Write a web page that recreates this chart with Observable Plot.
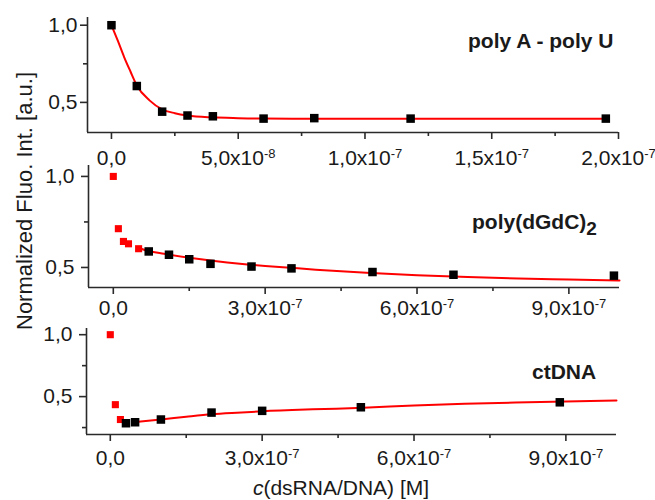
<!DOCTYPE html>
<html><head><meta charset="utf-8">
<script src="https://cdn.jsdelivr.net/npm/d3@7"></script>
<script src="https://cdn.jsdelivr.net/npm/@observablehq/plot@0.6"></script>
<style>
body{margin:0;background:#fff;}
#wrap{position:relative;width:655px;height:500px;overflow:hidden;font-family:"Liberation Sans",Arial,sans-serif;color:#1a1a1a;}
#wrap svg{position:absolute;left:0;top:0;}
.lbl{position:absolute;font-weight:bold;font-size:21px;white-space:nowrap;line-height:1;}
.ytitle{position:absolute;left:25px;top:201px;transform:translate(-50%,-50%) rotate(-90deg);font-size:22px;white-space:nowrap;line-height:1;}
.xtitle{position:absolute;left:341px;top:477px;transform:translateX(-50%);font-size:21px;white-space:nowrap;line-height:1;}
</style></head><body><div id="wrap"></div>
<script>
// ---- Panel 1: poly A - poly U ----
const p1BlackX = [0, 1e-8, 2e-8, 3e-8, 4e-8, 6e-8, 8e-8, 1.18e-7, 1.95e-7];
const p1BlackY = [1.0, 0.606, 0.44, 0.415, 0.41, 0.395, 0.398, 0.395, 0.395];
const p1FitX = [0, 0.25e-8, 0.5e-8, 0.75e-8, 1e-8, 1.5e-8, 2e-8, 2.5e-8, 3e-8, 4e-8, 5e-8, 6e-8, 8e-8, 1.2e-7, 1.6e-7, 1.96e-7];
const p1FitY = [1.0, 0.90, 0.794, 0.70, 0.61, 0.513, 0.455, 0.43, 0.415, 0.403, 0.398, 0.395, 0.394, 0.394, 0.394, 0.394];
const p1Ticks = [0, 5e-8, 1e-7, 1.5e-7, 2e-7];
const p1TickLabels = [["0,0", ""], ["5,0", "-8"], ["1,0", "-7"], ["1,5", "-7"], ["2,0", "-7"]];
const p1Minor = [2.5e-8, 7.5e-8, 1.25e-7, 1.75e-7];

// ---- Panel 2: poly(dGdC)2 ----
const p2RedX = [0, 1e-8, 2e-8, 3e-8, 5e-8];
const p2RedY = [1.0, 0.713, 0.643, 0.63, 0.603];
const p2BlackX = [7e-8, 1.1e-7, 1.5e-7, 1.92e-7, 2.73e-7, 3.52e-7, 5.12e-7, 6.72e-7, 9.89e-7];
const p2BlackY = [0.588, 0.57, 0.545, 0.52, 0.505, 0.495, 0.475, 0.46, 0.455];
const p2FitX = [5e-8, 7e-8, 1e-7, 1.5e-7, 2e-7, 2.5e-7, 3e-7, 3.5e-7, 4e-7, 5e-7, 6e-7, 7e-7, 8e-7, 9e-7, 1e-6];
const p2FitY = [0.607, 0.59, 0.575, 0.553, 0.535, 0.52, 0.508, 0.498, 0.488, 0.471, 0.457, 0.447, 0.44, 0.434, 0.428];

// ---- Panel 3: ctDNA ----
const p3RedX = [0, 1e-8, 2e-8];
const p3RedY = [1.0, 0.435, 0.315];
const p3BlackX = [3.1e-8, 4.9e-8, 1e-7, 2e-7, 3e-7, 4.95e-7, 8.88e-7];
const p3BlackY = [0.285, 0.293, 0.315, 0.371, 0.385, 0.414, 0.454];
const p3FitX = [5e-8, 1e-7, 1.5e-7, 2e-7, 2.5e-7, 3e-7, 4e-7, 5e-7, 6e-7, 7e-7, 8e-7, 9e-7, 1e-6];
const p3FitY = [0.295, 0.315, 0.337, 0.357, 0.37, 0.381, 0.397, 0.41, 0.428, 0.442, 0.452, 0.46, 0.468];

const p23Ticks = [0, 3e-7, 6e-7, 9e-7];
const p23TickLabels = [["0,0", ""], ["3,0", "-7"], ["6,0", "-7"], ["9,0", "-7"]];
const p23Minor = [1.5e-7, 4.5e-7, 7.5e-7];

const yTicks = [0.5, 1.0];
const yTickLabels = ["0,5", "1,0"];

const zip = (xs, ys) => xs.map((x, i) => ({x, y: ys[i]}));
const wrap = document.getElementById("wrap");
const AX = "#2a2a2a";

function panel(cfg) {
  const xfmt = new Map(cfg.ticks.map((t, i) => [t, cfg.labels[i].join("|")]));
  const yfmt = new Map(yTicks.map((t, i) => [t, yTickLabels[i]]));
  const marks = [
    Plot.ruleY([cfg.yDomain[0]], {stroke: AX, strokeWidth: 1.6}),
    Plot.ruleX([cfg.xDomain[0]], {stroke: AX, strokeWidth: 1.6}),
    Plot.axisX(cfg.ticks, {tickSize: 7, tickPadding: cfg.xPad, tickFormat: d => xfmt.get(d), label: null, color: AX, strokeWidth: 1.6, fontSize: 21}),
    Plot.axisX(cfg.minor, {tickSize: 4, tickFormat: () => "", label: null, color: AX, strokeWidth: 1.6}),
    Plot.axisY(yTicks, {tickSize: 7, tickPadding: cfg.yPad, tickFormat: d => yfmt.get(d), label: null, color: AX, strokeWidth: 1.6, fontSize: 21}),
    Plot.axisY(cfg.yMinor, {tickSize: 4, tickFormat: () => "", label: null, color: AX, strokeWidth: 1.6}),
    Plot.line(cfg.fit, {x: "x", y: "y", stroke: "#ff0000", strokeWidth: 2, curve: "monotone-x"})
  ];
  if (cfg.red) marks.push(Plot.dot(cfg.red, {x: "x", y: "y", symbol: "square", r: 4, fill: "#ff0000", stroke: "none"}));
  marks.push(Plot.dot(cfg.black, {x: "x", y: "y", symbol: "square", r: 4.8, fill: "#000", stroke: "none"}));
  const svg = Plot.plot({
    width: 655, height: 500,
    marginLeft: cfg.left, marginRight: 655 - cfg.right, marginTop: cfg.top, marginBottom: 500 - cfg.bottom,
    style: {fontSize: "21px", fontFamily: '"Liberation Sans", Arial, sans-serif', background: "transparent", overflow: "visible", color: "#1a1a1a"},
    x: {domain: cfg.xDomain, axis: null},
    y: {domain: cfg.yDomain, axis: null},
    marks
  });
  d3.select(svg).selectAll("text").each(function() {
    const s = this.textContent;
    if (s.includes("|")) {
      const [m, e] = s.split("|");
      this.textContent = e ? m + "x10" : m;
      if (e) d3.select(this).append("tspan").attr("dy", "-0.6em").attr("font-size", "13px").text(e);
    }
  });
  d3.select(svg).selectAll("text").attr("fill", "#1a1a1a");
  wrap.appendChild(svg);
}

panel({xDomain: [-0.945e-8, 2e-7], yDomain: [0.305, 1.05], left: 87, right: 618, top: 17, bottom: 132,
  ticks: p1Ticks, labels: p1TickLabels, minor: p1Minor, yMinor: [0.75], xPad: 11, yPad: 3,
  fit: zip(p1FitX, p1FitY), black: zip(p1BlackX, p1BlackY)});
panel({xDomain: [-0.49e-7, 1.0e-6], yDomain: [0.39, 1.06], left: 88, right: 619, top: 165, bottom: 287,
  ticks: p23Ticks, labels: p23TickLabels, minor: p23Minor, yMinor: [0.75], xPad: 6, yPad: 7,
  fit: zip(p2FitX, p2FitY), red: zip(p2RedX, p2RedY), black: zip(p2BlackX, p2BlackY)});
panel({xDomain: [-0.47e-7, 1.0e-6], yDomain: [0.194, 1.05], left: 86, right: 616, top: 328, bottom: 434,
  ticks: p23Ticks, labels: p23TickLabels, minor: p23Minor, yMinor: [0.25, 0.75], xPad: 9, yPad: 7,
  fit: zip(p3FitX, p3FitY), red: zip(p3RedX, p3RedY), black: zip(p3BlackX, p3BlackY)});

function addDiv(cls, html, left, top) {
  const d = document.createElement("div");
  d.className = cls; d.innerHTML = html;
  if (left != null) { d.style.left = left + "px"; d.style.top = top + "px"; }
  wrap.appendChild(d);
}
addDiv("lbl", "poly A - poly U", 468, 30);
addDiv("lbl", 'poly(dGdC)<span style="font-size:19px;position:relative;top:6px">2</span>', 472, 211);
addDiv("lbl", "ctDNA", 532, 361);
addDiv("ytitle", "Normalized Fluo. Int. [a.u.]");
addDiv("xtitle", "<i>c</i>(dsRNA/DNA) [M]");
</script>
</body></html>
